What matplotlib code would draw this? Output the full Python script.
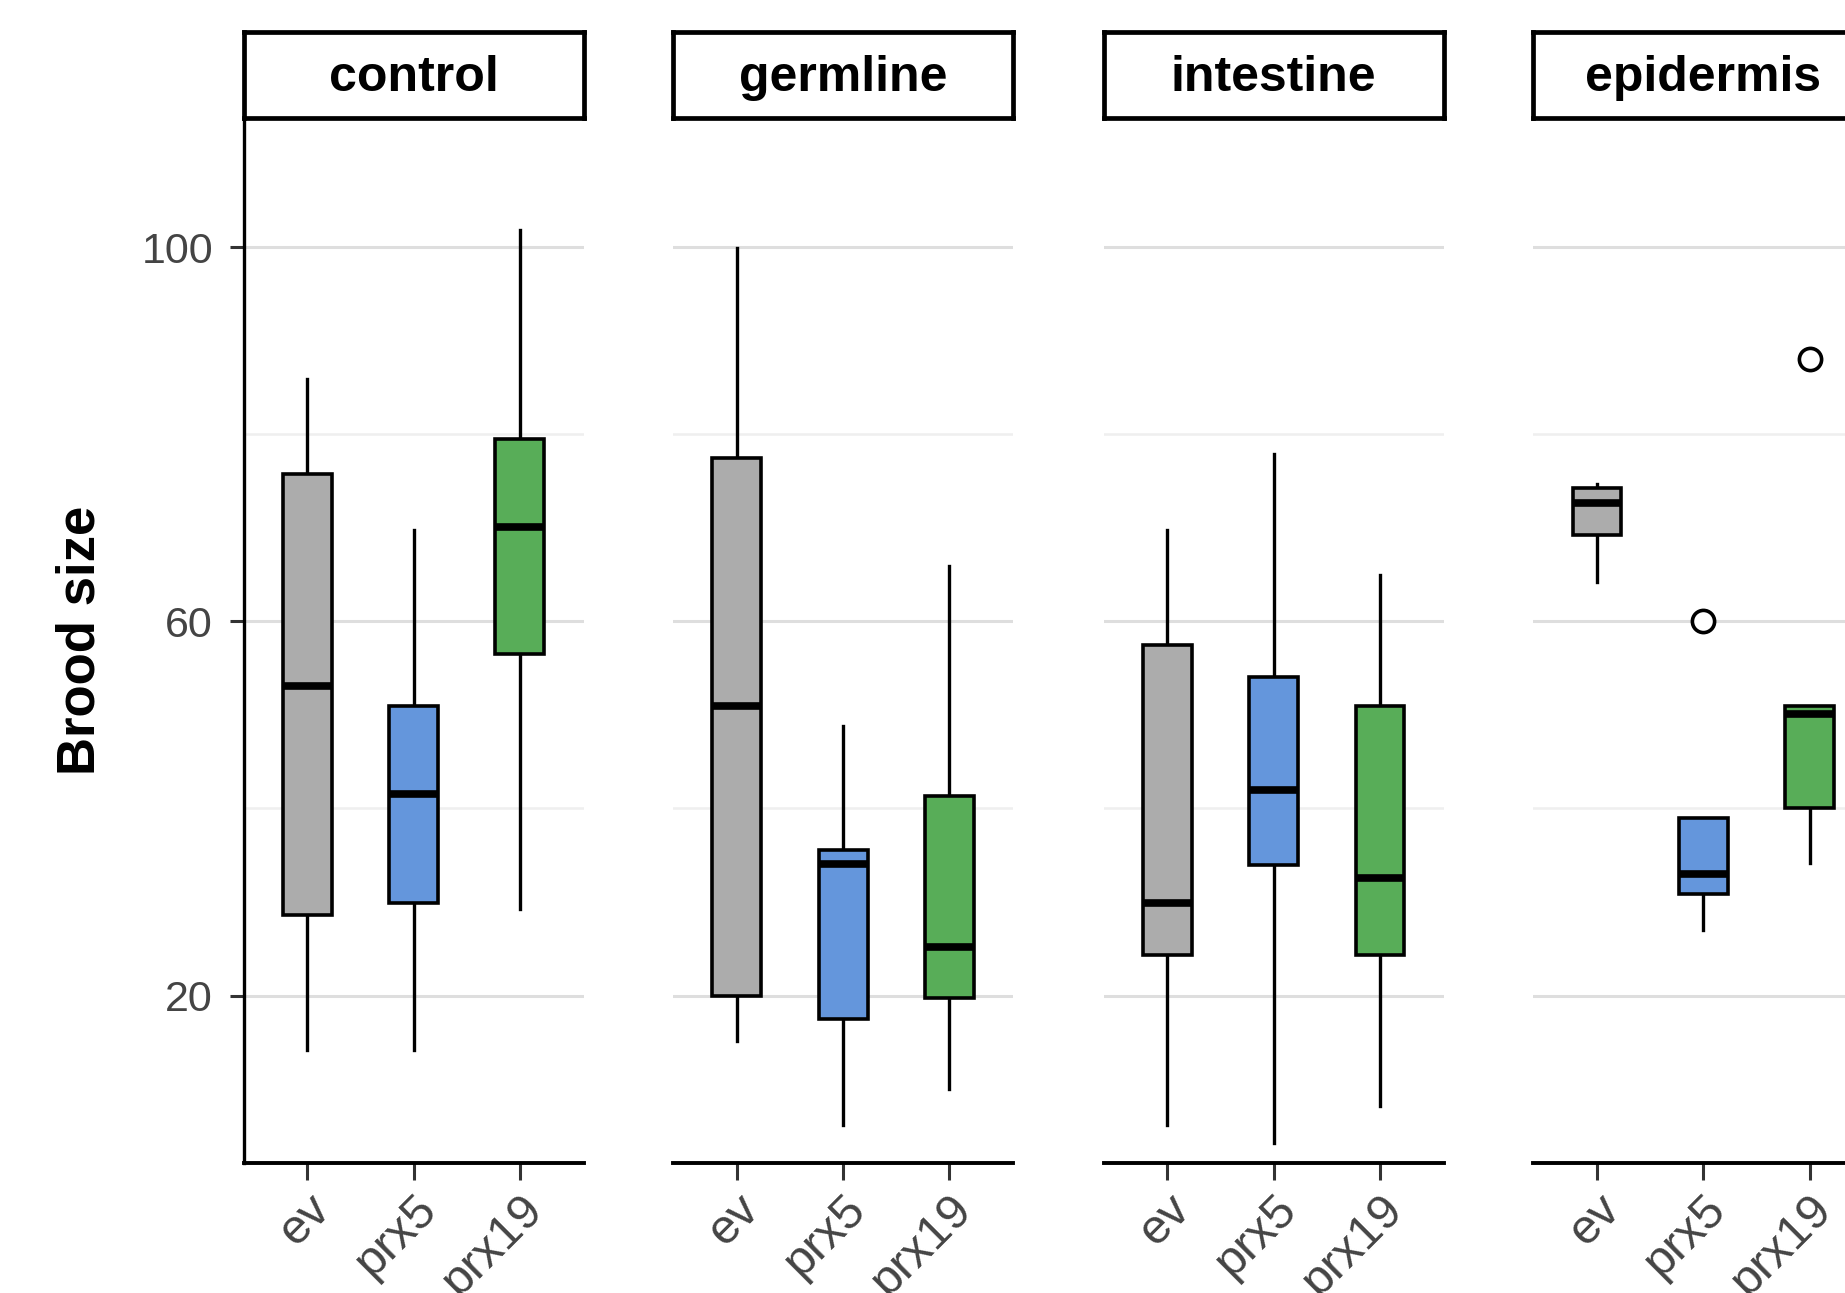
import matplotlib
matplotlib.use("Agg")
import matplotlib.pyplot as plt

plt.rcParams['font.family'] = ['Liberation Sans', 'DejaVu Sans']

###################### data ##################################################
tissues = ["control", "germline", "intestine", "epidermis"]
genotypes = ["ev", "prx5", "prx19"]
colors = ["#acacac", "#6496dc", "#58ad58"]

# per tissue: [ev, prx5, prx19]
whis_lo = {"control": [14.2, 14.2, 29.2], "germline": [15.1, 6.2, 10.0],
           "intestine": [6.2, 4.2, 8.2], "epidermis": [64.2, 27.0, 34.2]}
q1 = {"control": [28.6, 29.9, 56.5], "germline": [20.0, 17.5, 19.7],
      "intestine": [24.3, 34.0, 24.3], "epidermis": [69.2, 30.9, 40.0]}
median = {"control": [53.1, 41.5, 70.1], "germline": [50.9, 34.1, 25.2],
          "intestine": [29.9, 42.0, 32.6], "epidermis": [72.6, 33.0, 50.1]}
q3 = {"control": [75.7, 50.9, 79.5], "germline": [77.5, 35.6, 41.3],
      "intestine": [57.5, 54.0, 50.9], "epidermis": [74.2, 39.0, 50.9]}
whis_hi = {"control": [85.9, 69.8, 101.8], "germline": [99.9, 48.8, 65.9],
           "intestine": [69.8, 77.9, 64.9], "epidermis": [74.7, 39.0, 50.9]}
outliers = {"control": [[], [], []], "germline": [[], [], []],
            "intestine": [[], [], []], "epidermis": [[], [60.0], [88.0]]}

######################## figure layout ######################################
W, H = 1845, 1293
fig = plt.figure(figsize=(W / 100, H / 100), dpi=100)

panel_left = [243.6, 673.1, 1103.7, 1533.3]   # px
panel_w = 340.0
plot_top, plot_bot = 117.7, 1162.6
strip_top = 31.8

for i, tissue in enumerate(tissues):
    x0 = panel_left[i] / W
    ax = fig.add_axes([x0, 1 - plot_bot / H, panel_w / W, (plot_bot - plot_top) / H])
    stats = []
    for j, g in enumerate(genotypes):
        stats.append(dict(med=median[tissue][j], q1=q1[tissue][j], q3=q3[tissue][j],
                          whislo=whis_lo[tissue][j], whishi=whis_hi[tissue][j],
                          fliers=outliers[tissue][j], label=g))
    bp = ax.bxp(stats, positions=[1, 2, 3], widths=0.46, patch_artist=True,
                showcaps=False,
                boxprops=dict(edgecolor="black", linewidth=2.6),
                medianprops=dict(color="black", linewidth=5.5, solid_capstyle="butt"),
                whiskerprops=dict(color="black", linewidth=2.4),
                flierprops=dict(marker="o", markerfacecolor="white", markeredgecolor="black",
                                markersize=16, markeredgewidth=2.6))
    for patch, c in zip(bp["boxes"], colors):
        patch.set_facecolor(c)
        patch.set_zorder(3)
    for ln in bp["whiskers"]:
        ln.set_zorder(2)
    for ln in bp["medians"]:
        ln.set_zorder(4)

    ax.set_xlim(0.4, 3.6)
    ax.set_ylim(2.14, 113.83)
    ax.set_yticks([20, 60, 100])
    ax.set_yticks([40, 80], minor=True)
    ax.grid(True, which="major", axis="y", color="#dedede", linewidth=2.2)
    ax.grid(True, which="minor", axis="y", color="#efefef", linewidth=1.8)
    ax.set_axisbelow(True)

    ax.set_xticks([1, 2, 3])
    ax.set_xticklabels(genotypes, rotation=45, ha="right", va="top",
                       rotation_mode="anchor", fontsize=35, color="#444444")
    ax.tick_params(axis="x", length=12, width=2.2, color="#333333", pad=5)

    for s in ["top", "right"]:
        ax.spines[s].set_visible(False)
    ax.spines["bottom"].set_linewidth(2.8)
    if i == 0:
        ax.spines["left"].set_linewidth(2.4)
        ax.set_yticklabels(["20", "60", "100"], fontsize=31, color="#444444")
        ax.tick_params(axis="y", which="major", length=10, width=2.2, color="#333333", pad=12)
        ax.tick_params(axis="y", which="minor", length=0)
        ax.set_ylabel("Brood size", fontsize=38, fontweight="bold", labelpad=26)
    else:
        ax.spines["left"].set_visible(False)
        ax.tick_params(axis="y", which="both", length=0, labelleft=False)

    # facet strip
    sax = fig.add_axes([x0, 1 - plot_top / H, panel_w / W, (plot_top - strip_top) / H])
    sax.set_xticks([])
    sax.set_yticks([])
    for s in sax.spines.values():
        s.set_linewidth(3.4)
    sax.text(0.5, 0.46, tissue, ha="center", va="center", fontsize=36,
             fontweight="bold", transform=sax.transAxes)

plt.savefig("out.png", dpi=100)
